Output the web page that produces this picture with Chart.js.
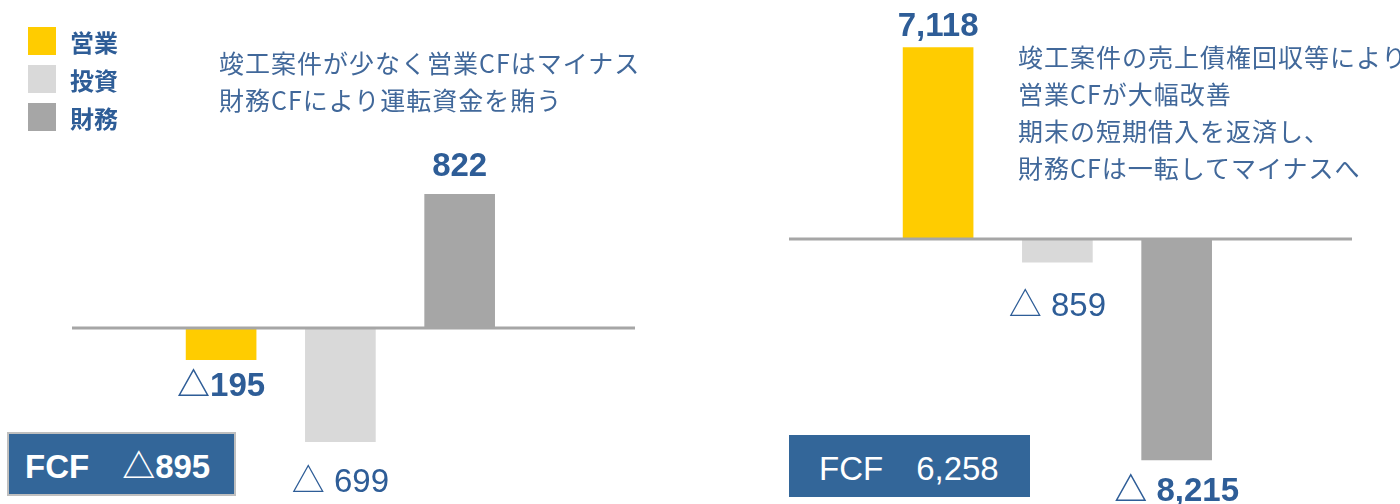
<!DOCTYPE html>
<html lang="ja">
<head>
<meta charset="utf-8">
<title>キャッシュ・フロー</title>
<script src="https://cdn.jsdelivr.net/npm/chart.js@4.4.1/dist/chart.umd.min.js"></script>
<style>
  html, body { margin: 0; padding: 0; background: #fff; }
  body { width: 1400px; height: 504px; position: relative; overflow: hidden; font-family: "Noto Sans CJK JP", sans-serif; }
  canvas { position: absolute; top: 0; }
  #prevChart { left: 0; }
  #currChart { left: 700px; }
  .legend { position: absolute; left: 28px; top: 27px; }
  .legend div { display: flex; align-items: center; height: 28px; margin-bottom: 10px; font-weight: bold; font-size: 24px; color: #2E5D97; }
  .legend span { display: inline-block; width: 28px; height: 28px; margin-right: 14px; }
  .note { position: absolute; font-size: 25px; letter-spacing: 1px; line-height: 37px; color: #41689A; white-space: nowrap; }
  .fcf { position: absolute; background: #336699; color: #fff; font-family: "Liberation Sans", "Noto Sans CJK JP", sans-serif; font-size: 33px; box-sizing: border-box; display: flex; align-items: center; white-space: pre; }
  #fcfPrev { left: 7px; top: 432px; width: 229px; height: 64px; border: 2px solid #BFBFBF; padding-left: 16px; font-weight: bold; }
  #fcfCurr { left: 789px; top: 435px; width: 241px; height: 62px; padding-left: 30px; }
</style>
</head>
<body>
<canvas id="prevChart" width="700" height="504"></canvas>
<canvas id="currChart" width="700" height="504"></canvas>
<div class="legend" id="legend"></div>
<div class="note" style="left:219px; top:44px;">竣工案件が少なく営業CFはマイナス<br>財務CFにより運転資金を賄う</div>
<div class="note" style="left:1018px; top:38px;">竣工案件の売上債権回収等により<br>営業CFが大幅改善<br>期末の短期借入を返済し、<br>財務CFは一転してマイナスへ</div>
<div class="fcf" id="fcfPrev"></div>
<div class="fcf" id="fcfCurr"></div>
<script>
// データ
const categories = ['営業', '投資', '財務'];
const prevValues = [-195, -699, 822];
const currValues = [7118, -859, -8215];
const fcfValues = [-895, 6258];
const barColors = ['#FFCC00', '#D9D9D9', '#A6A6A6'];

// マイナスは△で表示
function fmt(v, spaced) {
    const s = Math.abs(v).toLocaleString('en-US');
    return v < 0 ? '△' + (spaced ? ' ' : '') + s : s;
}

// 凡例
const legend = document.getElementById('legend');
categories.forEach((c, i) => {
    const row = document.createElement('div');
    const box = document.createElement('span');
    box.style.background = barColors[i];
    row.appendChild(box);
    row.appendChild(document.createTextNode(c));
    legend.appendChild(row);
});

document.getElementById('fcfPrev').textContent = 'FCF　' + fmt(fcfValues[0], false);
document.getElementById('fcfCurr').textContent = 'FCF　' + fmt(fcfValues[1], false);

// ゼロ線と数値ラベル
const valueLabels = {
    id: 'valueLabels',
    afterDatasetsDraw(chart, args, o) {
        const ctx = chart.ctx;
        const area = chart.chartArea;
        const zero = chart.scales.y.getPixelForValue(0);
        ctx.save();
        ctx.strokeStyle = '#A6A6A6';
        ctx.lineWidth = 3;
        ctx.beginPath();
        ctx.moveTo(area.left, zero);
        ctx.lineTo(area.right, zero);
        ctx.stroke();

        ctx.fillStyle = '#2E5D97';
        ctx.textAlign = 'center';
        ctx.textBaseline = 'alphabetic';
        const data = chart.data.datasets[0].data;
        chart.getDatasetMeta(0).data.forEach((bar, i) => {
            const v = data[i].y;
            ctx.font = (o.bold[i] ? 'bold ' : '') + '33px "Liberation Sans", "Noto Sans CJK JP"';
            const y = v >= 0 ? bar.y - o.gaps[i] : bar.y + o.gaps[i] + 24;
            ctx.fillText(fmt(v, o.spaced[i]), bar.x, y);
        });
        ctx.restore();
    }
};

function makeChart(id, values, opt) {
    return new Chart(document.getElementById(id), {
        type: 'bar',
        data: {
            labels: categories,
            datasets: [{
                data: values.map((v, i) => ({ x: i, y: v })),
                backgroundColor: barColors,
                barThickness: 70,
                borderWidth: 0
            }]
        },
        options: {
            responsive: false,
            animation: false,
            layout: { padding: { left: opt.padLeft, right: opt.padRight, top: 0, bottom: 0 } },
            scales: {
                x: { type: 'linear', display: false, offset: false, min: -1.25, max: 3.47 },
                y: { display: false, min: opt.yMin, max: opt.yMax }
            },
            plugins: {
                legend: { display: false },
                tooltip: { enabled: false },
                valueLabels: { gaps: opt.gaps, bold: opt.bold, spaced: opt.spaced }
            }
        },
        plugins: [valueLabels]
    });
}

makeChart('prevChart', prevValues, {
    padLeft: 72, padRight: 65, yMin: -1083, yMax: 2018,
    gaps: [12, 26, 18], bold: [true, false, true], spaced: [false, true, false]
});

makeChart('currChart', currValues, {
    padLeft: 89, padRight: 48, yMin: -9851, yMax: 8885,
    gaps: [12, 30, 17], bold: [true, false, true], spaced: [false, true, true]
});
</script>
</body>
</html>
